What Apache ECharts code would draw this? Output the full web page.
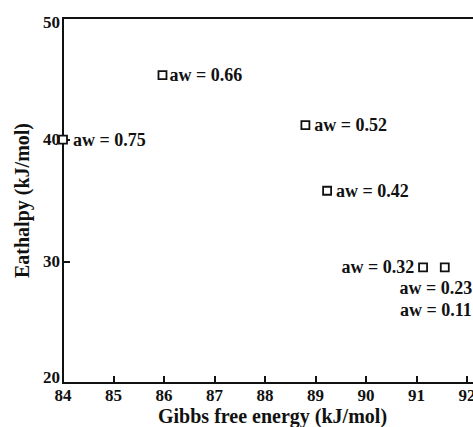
<!DOCTYPE html>
<html>
<head>
<meta charset="utf-8">
<script src="https://cdn.jsdelivr.net/npm/echarts@6/dist/echarts.min.js"></script>
<style>html,body{margin:0;padding:0;background:#fff}#c{width:473px;height:427px}</style>
</head>
<body>
<div id="c"></div>
<script>
// Data
const awLabels = ['aw = 0.75', 'aw = 0.66', 'aw = 0.52', 'aw = 0.42', 'aw = 0.32', 'aw = 0.23', 'aw = 0.11'];
const gibbs    = [84.0, 85.97, 88.8, 89.23, 91.13, 91.56, 91.56];
const enthalpy = [40.0, 45.3, 41.2, 35.8, 29.5, 29.5, 29.5];
const xTicks = [84, 85, 86, 87, 88, 89, 90, 91, 92];
const xMax = 93;
const yTicks = [20, 30, 40, 50];

const FONT = '"Liberation Serif", "Times New Roman", serif';
// label placement per point (style only)
const labelPos = [
  {position: 'right', distance: 5},
  {position: 'right', distance: 2},
  {position: 'right', distance: 4},
  {position: 'right', distance: 4},
  {position: 'left', distance: 4},
  {position: 'inside', offset: [-9, 21]},
  {position: 'inside', offset: [-9, 43]}
];

const data = gibbs.map((g, i) => {
  const lp = labelPos[i];
  const lab = {show: true, formatter: awLabels[i], position: lp.position,
    color: '#111', fontFamily: FONT, fontWeight: 'bold', fontSize: 18};
  if (lp.distance !== undefined) lab.distance = lp.distance;
  if (lp.offset) { lab.offset = lp.offset; }
  const d = {value: [g, enthalpy[i]], label: lab};
  if (i === 6) { d.symbolSize = 0; }
  return d;
});

const chart = echarts.init(document.getElementById('c'), null, {renderer: 'svg'});
chart.setOption({
  animation: false,
  backgroundColor: '#fff',
  grid: {left: 63, top: 18, width: 454.5, height: 365, show: true, borderColor: '#111', borderWidth: 2,
    outerBoundsMode: 'none', containLabel: false},
  xAxis: {
    type: 'value', min: xTicks[0], max: xMax, interval: 1,
    axisLine: {show: true, onZero: false, lineStyle: {color: '#111', width: 2}},
    axisTick: {show: true, inside: true, length: 7, lineStyle: {color: '#111', width: 2}},
    axisLabel: {color: '#111', fontFamily: FONT, fontWeight: 'bold', fontSize: 17, margin: 4,
      formatter: v => xTicks.includes(v) ? String(v) : ''},
    splitLine: {show: false}
  },
  yAxis: {
    type: 'value', min: yTicks[0], max: yTicks[yTicks.length - 1], interval: 10,
    axisLine: {show: true, onZero: false, lineStyle: {color: '#111', width: 2}},
    axisTick: {show: true, inside: true, length: 7, lineStyle: {color: '#111', width: 2}},
    axisLabel: {color: '#111', fontFamily: FONT, fontWeight: 'bold', fontSize: 17, margin: 3,
      formatter: v => !yTicks.includes(v) ? '' :
        (v === yTicks[0] ? '{lo|' + v + '}' : (v === yTicks[yTicks.length - 1] ? '{hi|' + v + '}' : String(v))),
      rich: {
        lo: {fontFamily: FONT, fontWeight: 'bold', fontSize: 17, color: '#111', padding: [0, 0, 12, 0]},
        hi: {fontFamily: FONT, fontWeight: 'bold', fontSize: 17, color: '#111', padding: [8, 0, 0, 0]}
      }},
    splitLine: {show: false},
    name: 'Eathalpy (kJ/mol)', nameLocation: 'middle', nameGap: 30, nameRotate: 90,
    nameTextStyle: {color: '#111', fontFamily: FONT, fontWeight: 'bold', fontSize: 20}
  },
  graphic: [{
    type: 'text', left: 158, top: 406,
    style: {text: 'Gibbs free energy (kJ/mol)', fill: '#111', font: 'bold 20px ' + FONT}
  }],
  series: [{
    type: 'scatter', symbol: 'rect', symbolSize: 8,
    itemStyle: {color: '#fff', borderColor: '#111', borderWidth: 1.8, opacity: 1},
    data: data
  }]
});
</script>
</body>
</html>
